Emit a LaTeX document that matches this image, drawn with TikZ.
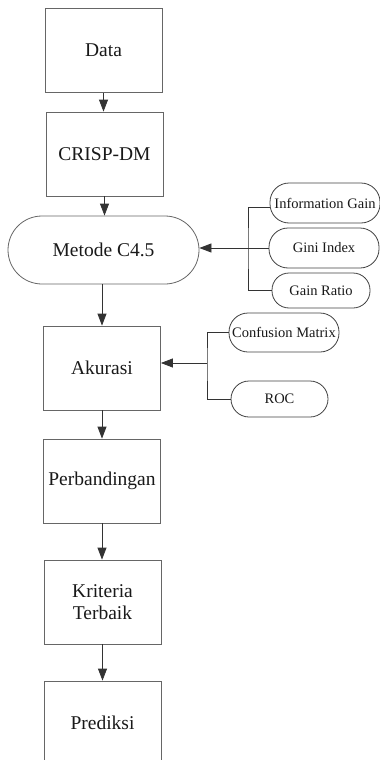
\documentclass[tikz,border=0pt]{standalone}
\usepackage{fontspec}
\setmainfont{Liberation Serif}
\usetikzlibrary{arrows.meta}
\begin{document}
\begin{tikzpicture}[x=1pt,y=-1pt,
  box/.style={draw=black!60,line width=0.8pt,rectangle,minimum width=117pt,minimum height=84pt,inner sep=0pt,align=center,font=\fontsize{19.5}{22}\selectfont,text=black!90},
  pill/.style={draw=black!75,line width=0.8pt,rectangle,rounded corners=19pt,minimum width=110pt,minimum height=40pt,inner sep=0pt,align=center,font=\fontsize{14.5}{17}\selectfont,text=black!90},
  conn/.style={draw=black!80,line width=0.8pt},
  arr/.style={conn,-{Triangle[length=12pt,width=9pt]}}]
\useasboundingbox (0,0) rectangle (380,760);
\begin{scope}
\clip (0,0) rectangle (380,760);
\node[box] (data) at (103.5,50.5) {Data};
\node[box] (crisp) at (104.5,154) {CRISP-DM};
\node[box,rounded corners=34pt,minimum width=191pt,minimum height=68pt] (metode) at (103.5,250) {Metode C4.5};
\node[box] (akurasi) at (102,368) {Akurasi};
\node[box] (banding) at (102,481) {Perbandingan};
\node[box] (kriteria) at (102.5,602) {Kriteria\\Terbaik};
\node[box] (prediksi) at (102.5,723) {Prediksi};

\node[pill] (ig) at (325,203) {Information Gain};
\node[pill] (gini) at (324,248) {Gini Index};
\node[pill,minimum width=98pt,minimum height=35pt,rounded corners=17pt] (gr) at (321,290.5) {Gain Ratio};
\node[pill,minimum height=39pt] (cm) at (284,332.5) {Confusion Matrix};
\node[pill,minimum width=97pt,minimum height=36pt,rounded corners=18pt] (roc) at (279.5,399) {ROC};

\coordinate (b1) at (248,248);
\coordinate (b2) at (207,363);

\draw[arr] (data.south) -- (data.south |- crisp.north);
\draw[arr] (crisp.south) -- (crisp.south |- metode.north);
\draw[arr] (akurasi.north |- metode.south) -- (akurasi.north);
\draw[arr] (akurasi.south) -- (banding.north);
\draw[arr] (banding.south) -- (banding.south |- kriteria.north);
\draw[arr] (kriteria.south) -- (kriteria.south |- prediksi.north);

\draw[conn] (ig.west |- 0,207) -| (b1) |- (gr.west);
\draw[arr] (gini.west) -- (metode.east |- gini.west);
\draw[conn] (cm.west) -| (b2) |- (roc.west);
\draw[arr] (b2) -- (akurasi.east |- b2);
\end{scope}
\end{tikzpicture}
\end{document}
